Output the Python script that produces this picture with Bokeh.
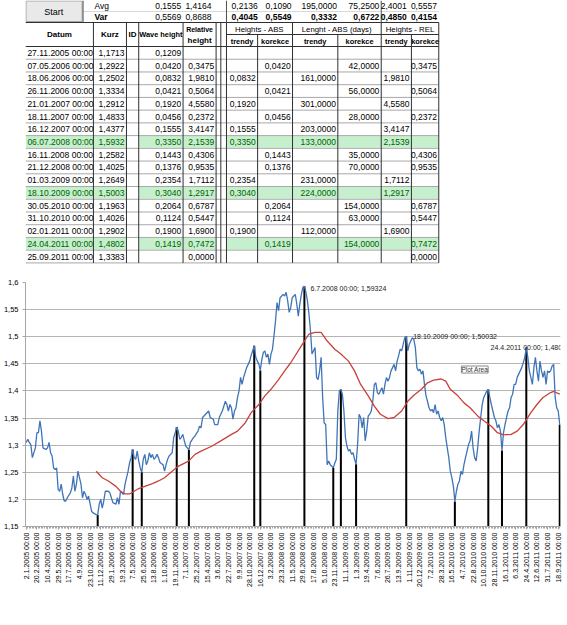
from math import pi
from bokeh.plotting import figure
from bokeh.layouts import column
from bokeh.models import ColumnDataSource, Range1d, FixedTicker, Label
from bokeh.embed import file_html
from bokeh.resources import INLINE
from bokeh.core.properties import value

FONT = "Liberation Sans"

# ---------------- table data ----------------
datum = ["27.11.2005 00:00", "07.05.2006 00:00", "18.06.2006 00:00", "26.11.2006 00:00",
         "21.01.2007 00:00", "18.11.2007 00:00", "16.12.2007 00:00", "06.07.2008 00:00",
         "16.11.2008 00:00", "21.12.2008 00:00", "01.03.2009 00:00", "18.10.2009 00:00",
         "30.05.2010 00:00", "31.10.2010 00:00", "02.01.2011 00:00", "24.04.2011 00:00",
         "25.09.2011 00:00"]
kurz = ["1,1713", "1,2922", "1,2502", "1,3334", "1,2912", "1,4833", "1,4377", "1,5932", "1,2582",
        "1,4025", "1,2649", "1,5003", "1,1963", "1,4026", "1,2902", "1,4802", "1,3383"]
wave_height = ["0,1209", "0,0420", "0,0832", "0,0421", "0,1920", "0,0456", "0,1555", "0,3350", "0,1443",
               "0,1376", "0,2354", "0,3040", "0,2064", "0,1124", "0,1900", "0,1419", ""]
relative_height = ["", "0,3475", "1,9810", "0,5064", "4,5580", "0,2372", "3,4147", "2,1539", "0,4306",
                   "0,9535", "1,7112", "1,2917", "0,6787", "0,5447", "1,6900", "0,7472", "0,0000"]
abs_trendy = ["", "", "0,0832", "", "0,1920", "", "0,1555", "0,3350", "", "", "0,2354", "0,3040",
              "", "", "0,1900", "", ""]
abs_korekce = ["", "0,0420", "", "0,0421", "", "0,0456", "", "", "0,1443", "0,1376", "", "",
               "0,2064", "0,1124", "", "0,1419", ""]
len_trendy = ["", "", "161,0000", "", "301,0000", "", "203,0000", "133,0000", "", "", "231,0000",
              "224,0000", "", "", "112,0000", "", ""]
len_korekce = ["", "42,0000", "", "56,0000", "", "28,0000", "", "", "35,0000", "70,0000", "", "",
               "154,0000", "63,0000", "", "154,0000", ""]
rel_trendy = ["", "", "1,9810", "", "4,5580", "", "3,4147", "2,1539", "", "", "1,7112", "1,2917",
              "", "", "1,6900", "", ""]
rel_korekce = ["", "0,3475", "", "0,5064", "", "0,2372", "", "", "0,4306", "0,9535", "", "",
               "0,6787", "0,5447", "", "0,7472", "0,0000"]
highlighted_rows = [7, 11, 15]

avg_values = ["0,1555", "1,4164", "0,2136", "0,1090", "195,0000", "75,2500", "2,4001", "0,5557"]
var_values = ["0,5569", "0,8688", "0,4045", "0,5549", "0,3332", "0,6722", "0,4850", "0,4154"]
var_bold = [False, False, True, True, True, True, True, True]

# ---------------- chart data ----------------
week_labels = ["2.1.2005", "20.2.2005", "10.4.2005", "29.5.2005", "17.7.2005", "4.9.2005",
               "23.10.2005", "11.12.2005", "29.1.2006", "19.3.2006", "7.5.2006", "25.6.2006",
               "13.8.2006", "1.10.2006", "19.11.2006", "7.1.2007", "25.2.2007", "15.4.2007",
               "3.6.2007", "22.7.2007", "9.9.2007", "28.10.2007", "16.12.2007", "3.2.2008",
               "23.3.2008", "11.5.2008", "29.6.2008", "17.8.2008", "5.10.2008", "23.11.2008",
               "11.1.2009", "1.3.2009", "19.4.2009", "7.6.2009", "26.7.2009", "13.9.2009",
               "1.11.2009", "20.12.2009", "7.2.2010", "28.3.2010", "16.5.2010", "4.7.2010",
               "22.8.2010", "10.10.2010", "28.11.2010", "16.1.2011", "6.3.2011", "24.4.2011",
               "12.6.2011", "31.7.2011", "18.9.2011"]

kurz_weeks = [0, 1, 2, 3, 4, 6, 7, 8, 9, 10, 11, 13, 14, 15, 16, 17, 18, 19, 20, 21, 22, 23, 24, 25,
              26, 27, 29, 30, 31, 32, 33, 34, 35, 36, 37, 38, 39, 40, 41, 43, 44, 46, 47, 48, 49, 50,
              51, 52, 54, 55, 56, 57, 59, 60, 61, 62, 63, 64, 65, 67, 68, 69, 70, 71, 72, 73, 74, 75,
              76, 77, 78, 79, 80, 81, 82, 83, 84, 85, 86, 87, 88, 90, 91, 92, 93, 94, 95, 96, 97, 98,
              99, 100, 101, 102, 103, 104, 105, 106, 107, 108, 110, 111, 113, 114, 115, 116, 118, 120,
              121, 123, 124, 126, 127, 128, 129, 131, 132, 133, 134, 135, 136, 137, 138, 139, 140, 141,
              142, 143, 144, 145, 147, 148, 149, 150, 151, 152, 153, 154, 155, 156, 157, 158, 159, 160,
              161, 162, 163, 164, 165, 166, 167, 169, 170, 171, 172, 173, 174, 175, 176, 177, 178, 179,
              180, 181, 182, 183, 184, 185, 186, 187, 188, 189, 190, 191, 192, 193, 194, 195, 196, 197,
              198, 199, 200, 201, 202, 203, 204, 205, 206, 207, 208, 209, 210, 211, 212, 213, 214, 215,
              216, 217, 218, 219, 220, 221, 222, 223, 224, 225, 226, 227, 228, 229, 230, 231, 232, 233,
              234, 235, 236, 237, 238, 239, 240, 241, 242, 243, 244, 245, 246, 247, 248, 249, 250, 251,
              252, 253, 254, 255, 256, 257, 258, 259, 260, 261, 262, 263, 264, 265, 266, 267, 268, 269,
              270, 271, 272, 273, 274, 275, 276, 277, 278, 279, 280, 281, 282, 283, 284, 285, 286, 287,
              288, 289, 290, 291, 292, 293, 294, 295, 296, 297, 298, 299, 300, 301, 302, 303, 304, 305,
              306, 307, 308, 309, 310, 311, 312, 313, 314, 315, 316, 317, 318, 319, 320, 321, 322, 323,
              324, 325, 326, 327, 328, 329, 330, 331, 332, 333, 334, 335, 336, 337, 338, 339, 340, 341,
              342, 343, 344, 345, 346, 347, 348, 349, 350, 351]
kurz_values = [1.305, 1.311, 1.305, 1.301, 1.277, 1.295, 1.323, 1.323, 1.345, 1.326, 1.295, 1.292,
               1.295, 1.305, 1.286, 1.280, 1.258, 1.255, 1.258, 1.218, 1.215, 1.228, 1.209, 1.197,
               1.197, 1.203, 1.212, 1.221, 1.243, 1.215, 1.228, 1.252, 1.240, 1.228, 1.203, 1.215,
               1.209, 1.200, 1.206, 1.178, 1.175, 1.172, 1.1713, 1.191, 1.200, 1.184, 1.197, 1.215,
               1.215, 1.212, 1.203, 1.194, 1.191, 1.203, 1.191, 1.215, 1.212, 1.209, 1.228, 1.252,
               1.268, 1.277, 1.2922, 1.277, 1.274, 1.289, 1.271, 1.258, 1.2502, 1.274, 1.283, 1.264,
               1.271, 1.286, 1.277, 1.283, 1.274, 1.277, 1.283, 1.277, 1.268, 1.264, 1.252, 1.264,
               1.274, 1.280, 1.283, 1.286, 1.314, 1.323, 1.3334, 1.326, 1.311, 1.314, 1.320, 1.308,
               1.298, 1.295, 1.2912, 1.305, 1.314, 1.317, 1.326, 1.335, 1.332, 1.351, 1.357, 1.363,
               1.351, 1.348, 1.338, 1.338, 1.351, 1.357, 1.363, 1.381, 1.375, 1.363, 1.375, 1.369,
               1.348, 1.363, 1.369, 1.388, 1.400, 1.425, 1.412, 1.425, 1.434, 1.443, 1.455, 1.466,
               1.474, 1.4833, 1.462, 1.455, 1.450, 1.4377, 1.458, 1.471, 1.474, 1.462, 1.468, 1.449,
               1.468, 1.477, 1.502, 1.529, 1.563, 1.548, 1.572, 1.578, 1.575, 1.582, 1.566, 1.545,
               1.554, 1.572, 1.575, 1.578, 1.560, 1.538, 1.560, 1.578, 1.591, 1.5932, 1.582, 1.566,
               1.542, 1.511, 1.468, 1.474, 1.480, 1.425, 1.421, 1.437, 1.462, 1.388, 1.341, 1.338,
               1.264, 1.271, 1.264, 1.261, 1.2582, 1.267, 1.274, 1.363, 1.400, 1.4025, 1.394, 1.363,
               1.314, 1.298, 1.289, 1.292, 1.283, 1.286, 1.274, 1.2649, 1.301, 1.357, 1.351, 1.332,
               1.351, 1.308, 1.326, 1.354, 1.357, 1.363, 1.381, 1.412, 1.415, 1.397, 1.394, 1.400,
               1.406, 1.394, 1.412, 1.425, 1.418, 1.425, 1.437, 1.443, 1.449, 1.437, 1.455, 1.465,
               1.477, 1.474, 1.486, 1.498, 1.5003, 1.474, 1.486, 1.492, 1.498, 1.495, 1.480, 1.443,
               1.437, 1.440, 1.431, 1.437, 1.412, 1.391, 1.381, 1.369, 1.363, 1.366, 1.360, 1.375,
               1.357, 1.363, 1.351, 1.345, 1.351, 1.338, 1.314, 1.295, 1.277, 1.252, 1.240, 1.225,
               1.1963, 1.215, 1.228, 1.234, 1.252, 1.246, 1.264, 1.277, 1.289, 1.301, 1.308, 1.326,
               1.295, 1.277, 1.271, 1.295, 1.326, 1.351, 1.375, 1.388, 1.394, 1.400, 1.4026, 1.388,
               1.375, 1.363, 1.351, 1.345, 1.332, 1.338, 1.326, 1.2902, 1.323, 1.338, 1.351, 1.363,
               1.369, 1.388, 1.394, 1.412, 1.412, 1.425, 1.431, 1.437, 1.443, 1.452, 1.462, 1.4802,
               1.462, 1.437, 1.425, 1.412, 1.443, 1.462, 1.437, 1.418, 1.455, 1.437, 1.425, 1.437,
               1.412, 1.437, 1.434, 1.437, 1.446, 1.449, 1.388, 1.369, 1.363, 1.3383]

ma_weeks = [46, 50, 54, 59, 62, 65, 68, 71, 74, 78, 83, 87, 91, 96, 100, 107, 111, 115, 122, 128,
            135, 139, 144, 148, 153, 157, 161, 166, 170, 174, 181, 186, 190, 194, 198, 203, 207,
            212, 216, 220, 225, 229, 233, 238, 242, 247, 251, 255, 260, 264, 268, 273, 276, 279,
            284, 288, 292, 297, 301, 306, 310, 314, 319, 323, 327, 332, 336, 340, 345, 347, 351]
ma_values = [1.252, 1.240, 1.234, 1.224, 1.215, 1.210, 1.210, 1.215, 1.220, 1.224, 1.229, 1.234,
             1.240, 1.252, 1.261, 1.271, 1.283, 1.289, 1.298, 1.308, 1.320, 1.326, 1.341, 1.360,
             1.375, 1.391, 1.403, 1.421, 1.437, 1.452, 1.483, 1.505, 1.508, 1.508, 1.492, 1.477,
             1.468, 1.455, 1.437, 1.412, 1.391, 1.372, 1.357, 1.349, 1.351, 1.363, 1.381, 1.392,
             1.403, 1.415, 1.420, 1.422, 1.418, 1.403, 1.391, 1.378, 1.369, 1.354, 1.345, 1.335,
             1.323, 1.319, 1.320, 1.326, 1.338, 1.360, 1.375, 1.388, 1.397, 1.399, 1.394]

turn_weeks = [47, 70, 76, 99, 107, 150, 154, 183, 202, 207, 217, 250, 282, 304, 313, 329, 351]
turn_values = [float(k.replace(",", ".")) for k in kurz]
label_rows = [7, 11, 15]
label_texts = ["6.7.2008 00:00; 1,59324", "18.10.2009 00:00; 1,50032", "24.4.2011 00:00; 1,4802"]

y_ticks = [1.15, 1.2, 1.25, 1.3, 1.35, 1.4, 1.45, 1.5, 1.55, 1.6]
y_tick_labels = ["1,15", "1,2", "1,25", "1,3", "1,35", "1,4", "1,45", "1,5", "1,55", "1,6"]

# ---------------- table figure ----------------
W = 567
TH = 264
t = figure(width=W, height=TH, x_range=Range1d(0, W), y_range=Range1d(TH, 0),
           toolbar_location=None, output_backend="svg", min_border=0,
           x_axis_location=None, y_axis_location=None)
t.grid.visible = False
t.outline_line_color = None

EDGES = [0, 72, 107, 120, 167, 202, 207, 213, 246, 283, 331, 377, 409, 438]
ROW0 = 46.0
RH = 12.73
NR = len(datum)
TBOT = ROW0 + NR * RH
GREEN_FILL = "#c6efce"
GREEN_TEXT = "#006100"

# green highlighted rows
fill_cols = [(0, 72), (72, 107), (120, 167), (167, 202), (213, 438)]
ql, qr, qt, qb = [], [], [], []
for r in highlighted_rows:
    for a, b in fill_cols:
        ql.append(a + 0.5); qr.append(b - 0.5)
        qt.append(ROW0 + r * RH + 0.5); qb.append(ROW0 + (r + 1) * RH - 0.5)
t.quad(left=ql, right=qr, top=qt, bottom=qb, fill_color=GREEN_FILL, line_color=None)

# Start button
t.quad(left=[0.5], right=[60], top=[0.5], bottom=[21], fill_color="#e9e9e9", line_color="#a5a5a5")

# light grid lines
hy = [ROW0 + k * RH for k in range(1, NR + 1)]
t.segment(x0=[0] * len(hy), x1=[438] * len(hy), y0=hy, y1=hy, line_color="#a8a8a8", line_width=1)
t.segment(x0=[61], x1=[438], y0=[11], y1=[11], line_color="#d9d9d9", line_width=1)

# strong borders
t.segment(x0=[0, 0, 213], x1=[438, 438, 438], y0=[22, ROW0, 34], y1=[22, ROW0, 34],
          line_color="#303030", line_width=1)
vx, vy0 = [], []
for e in EDGES[1:]:
    vx.append(e)
    vy0.append(34 if e in (246, 331, 409) else 22)
t.segment(x0=vx, x1=vx, y0=vy0, y1=[TBOT] * len(vx), line_color="#303030", line_width=1)
t.segment(x0=[61, 213, 377], x1=[61, 213, 377], y0=[0, 0, 0], y1=[22, 22, 22],
          line_color="#505050", line_width=1)


def add_text(xs, ys, texts, align, size="8.5px", bold=False, colors=None):
    keep = [i for i, s in enumerate(texts) if s != ""]
    src = ColumnDataSource(dict(x=[xs[i] for i in keep], y=[ys[i] for i in keep],
                                text=[texts[i] for i in keep],
                                c=[(colors[i] if colors else "#000000") for i in keep]))
    t.text(x="x", y="y", text="text", source=src, text_align=align, text_baseline="middle",
           text_font=value(FONT), text_font_size=size,
           text_font_style="bold" if bold else "normal", text_color="c")


row_y = [ROW0 + (i + 0.5) * RH for i in range(NR)]
row_col = [GREEN_TEXT if i in highlighted_rows else "#000000" for i in range(NR)]
data_cols = [datum, kurz, wave_height, relative_height, abs_trendy, abs_korekce,
             len_trendy, len_korekce, rel_trendy, rel_korekce]
col_x = [2, 105, 165, 200, 244, 281, 329, 375, 407, 436]
for j, col in enumerate(data_cols):
    add_text([col_x[j]] * NR, row_y, col, "left" if j == 0 else "right", colors=row_col)

# top statistics rows
stat_x = [165, 197, 246, 282, 330, 375, 404, 436]
add_text([30], [11], ["Start"], "center", size="9px")
add_text([73], [5.5], ["Avg"], "left")
add_text([73], [16.5], ["Var"], "left", bold=True)
add_text(stat_x, [5.5] * 8, avg_values, "right")
add_text([stat_x[i] for i in range(8) if not var_bold[i]], [16.5, 16.5],
         [var_values[i] for i in range(8) if not var_bold[i]], "right")
add_text([stat_x[i] for i in range(8) if var_bold[i]], [16.5] * 6,
         [var_values[i] for i in range(8) if var_bold[i]], "right", bold=True)

# headers
add_text([36, 89.5, 113.5], [34] * 3, ["Datum", "Kurz", "ID"], "center", size="8px", bold=True)
add_text([143.5], [34], ["Wave height"], "center", size="7.4px", bold=True)
add_text([184.5], [28.5], ["Relative"], "center", size="7px", bold=True)
add_text([184.5], [40], ["height"], "center", size="8px", bold=True)
add_text([248, 330, 407.5], [28.5] * 3, ["Heights - ABS", "Lenght - ABS (days)", "Heights - REL"],
         "center", size="7.8px")
add_text([229.5, 264.5, 307, 354, 393, 423.5], [40.5] * 6,
         ["trendy", "korekce", "trendy", "korekce", "trendy", "korekce"],
         "center", size="7.4px", bold=True)

# ---------------- chart figure ----------------
CH = 625 - TH
c = figure(width=W, height=CH, x_range=Range1d(-0.5, 351.5), y_range=Range1d(1.15, 1.6),
           toolbar_location=None, output_backend="svg",
           min_border_left=23, min_border_right=7, min_border_top=18, min_border_bottom=CH - 18 - 244)
c.outline_line_color = None
c.xgrid.visible = False
c.ygrid.grid_line_color = "#b4b4b4"
c.ygrid.grid_line_width = 1

c.yaxis.ticker = FixedTicker(ticks=y_ticks)
c.yaxis.major_label_overrides = {v: s for v, s in zip(y_ticks, y_tick_labels)}
c.yaxis.major_label_text_font = FONT
c.yaxis.major_label_text_font_size = "7.5px"
c.yaxis.major_label_text_color = "#000000"
c.yaxis.major_label_standoff = 4
c.yaxis.major_tick_out = 3
c.yaxis.major_tick_in = 0
c.yaxis.minor_tick_out = 0
c.yaxis.axis_line_color = "#a6a6a6"
c.yaxis.major_tick_line_color = "#a6a6a6"

x_ticks = [7 * i for i in range(len(week_labels))]
c.xaxis.ticker = FixedTicker(ticks=x_ticks, minor_ticks=list(range(0, 352)))
c.xaxis.major_label_overrides = {x: lab + " 00:00" for x, lab in zip(x_ticks, week_labels)}
c.xaxis.major_label_orientation = pi / 2
c.xaxis.major_label_text_font = FONT
c.xaxis.major_label_text_font_size = "7px"
c.xaxis.major_label_text_color = "#000000"
c.xaxis.major_label_standoff = 3
c.xaxis.axis_line_color = "#a6a6a6"
c.xaxis.major_tick_line_color = "#a6a6a6"
c.xaxis.minor_tick_line_color = "#a6a6a6"
c.xaxis.major_tick_out = 3
c.xaxis.major_tick_in = 0
c.xaxis.minor_tick_out = 2
c.xaxis.minor_tick_in = 0

base = y_ticks[0]
c.segment(x0=turn_weeks, x1=turn_weeks, y0=[base] * len(turn_weeks), y1=turn_values,
          line_color="#000000", line_width=2)
c.line(kurz_weeks, kurz_values, line_color="#3f74b8", line_width=1.3)
c.line(ma_weeks, ma_values, line_color="#c8413b", line_width=1.3)

label_style = [("left", 6, -2), ("left", 7, 0), ("center", 2, 0)]
for r, txt, (al, dx, dy) in zip(label_rows, label_texts, label_style):
    c.add_layout(Label(x=turn_weeks[r], y=turn_values[r], text=txt, x_offset=dx, y_offset=dy,
                       text_align=al, text_baseline="middle", text_font=FONT,
                       text_font_size="7px", text_color="#1a1a1a"))

c.add_layout(Label(x=286.3, y=1.4395, text="Plot Area", text_align="left", text_baseline="middle",
                   text_font=FONT, text_font_size="6.5px", text_color="#333333",
                   background_fill_color="#ffffff", border_line_color="#8a8a8a"))

layout = column(t, c, spacing=0)
open("out.html", "w").write(file_html(layout, INLINE))
